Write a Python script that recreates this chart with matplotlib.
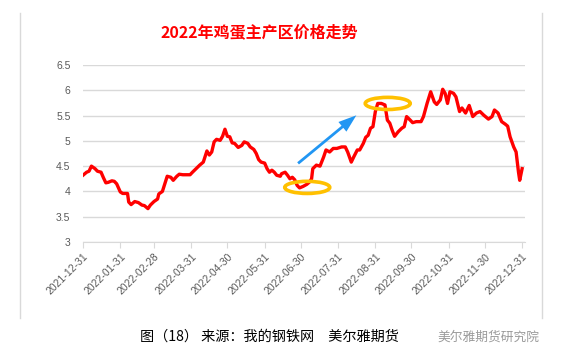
import numpy as np
import pandas as pd
import matplotlib
matplotlib.use('Agg')
import matplotlib.pyplot as plt
import matplotlib.dates as mdates
from matplotlib.patches import Ellipse, FancyArrowPatch
from matplotlib.lines import Line2D

plt.rcParams['font.family'] = ['Noto Sans CJK SC', 'DejaVu Sans']

############################ data ############################
# days after 2021-12-31 and egg price (yuan / jin)
day_offset = [0, 3, 5, 7, 10, 12, 15, 17, 19, 21, 24, 26, 28, 31, 33, 37, 38, 40,
              43, 46, 49, 51, 54, 56, 59, 62, 63, 66, 68, 70, 73, 75, 78, 80, 83,
              86, 89, 91, 94, 97, 100, 103, 105, 107, 109, 111, 114, 116, 118,
              120, 122, 124, 126, 129, 132, 134, 137, 139, 142, 144, 146, 148,
              151, 153, 155, 157, 159, 161, 164, 165, 168, 170, 172, 174, 176,
              178, 180, 183, 186, 188, 190, 191, 194, 197, 200, 202, 205, 208,
              211, 215, 218, 220, 223, 225, 228, 230, 233, 235, 237, 239, 241,
              243, 245, 248, 251, 253, 255, 257, 259, 262, 265, 267, 269, 272,
              274, 277, 281, 283, 286, 289, 292, 294, 297, 299, 301, 303, 305,
              308, 310, 313, 315, 318, 321, 324, 327, 330, 333, 337, 340, 342,
              345, 348, 351, 353, 355, 358, 360, 362, 363, 365]
price = [4.32, 4.38, 4.40, 4.50, 4.45, 4.40, 4.38, 4.27, 4.17, 4.18, 4.21, 4.20,
         4.15, 3.99, 3.96, 3.96, 3.79, 3.74, 3.80, 3.78, 3.73, 3.72, 3.66, 3.73,
         3.80, 3.85, 3.95, 4.00, 4.15, 4.30, 4.28, 4.22, 4.30, 4.34, 4.33, 4.33,
         4.33, 4.38, 4.45, 4.52, 4.58, 4.80, 4.72, 4.78, 4.98, 5.03, 5.01, 5.09,
         5.23, 5.09, 5.08, 4.96, 4.95, 4.87, 4.91, 4.98, 4.95, 4.88, 4.83, 4.75,
         4.63, 4.58, 4.56, 4.45, 4.38, 4.42, 4.38, 4.32, 4.30, 4.35, 4.38, 4.32,
         4.25, 4.28, 4.23, 4.12, 4.07, 4.10, 4.14, 4.18, 4.25, 4.45, 4.52, 4.50,
         4.68, 4.82, 4.78, 4.85, 4.85, 4.88, 4.88, 4.78, 4.58, 4.68, 4.82, 4.82,
         4.95, 5.07, 5.11, 5.25, 5.28, 5.58, 5.74, 5.74, 5.71, 5.41, 5.35, 5.21,
         5.09, 5.18, 5.25, 5.28, 5.48, 5.41, 5.36, 5.38, 5.38, 5.48, 5.74, 5.97,
         5.77, 5.72, 5.81, 6.02, 5.94, 5.74, 5.97, 5.94, 5.87, 5.58, 5.65, 5.55,
         5.70, 5.48, 5.55, 5.58, 5.51, 5.43, 5.48, 5.61, 5.55, 5.38, 5.33, 5.29,
         5.08, 4.88, 4.78, 4.38, 4.22, 4.45]

tick_labels = ['2021-12-31', '2022-01-31', '2022-02-28', '2022-03-31', '2022-04-30',
               '2022-05-31', '2022-06-30', '2022-07-31', '2022-08-31', '2022-09-30',
               '2022-10-31', '2022-11-30', '2022-12-31']
y_ticks = [3, 3.5, 4, 4.5, 5, 5.5, 6, 6.5]

title_text = '2022年鸡蛋主产区价格走势'
caption_text = '图（18） 来源：我的钢铁网　美尔雅期货'
watermark_text = '美尔雅期货研究院'

dates = pd.Timestamp('2021-12-31') + pd.to_timedelta(day_offset, unit='D')
tick_dates = pd.to_datetime(tick_labels)

grid_colour = '#D9D9D9'
label_colour = '#595959'

############################ figure ############################
fig = plt.figure(figsize=(5.66, 3.64), dpi=100)
ax = fig.add_axes([83 / 566, 1 - 242 / 364, (525 - 83) / 566, (242 - 65) / 364])

ax.plot(dates, price, color='#FF0000', lw=2.4, solid_joinstyle='round', zorder=3)

start = mdates.date2num(pd.Timestamp('2021-12-31'))
ax.set_xlim(start, start + 367.4)
ax.set_ylim(3, 6.5)

ax.set_yticks(y_ticks)
ax.set_yticklabels([('%g' % v) for v in y_ticks], fontsize=7.5, color=label_colour,
                   family='Liberation Sans')
ax.tick_params(axis='y', length=0, pad=9)
ax.yaxis.grid(True, color=grid_colour, lw=1)
ax.set_axisbelow(True)

ax.set_xticks(mdates.date2num(tick_dates))
ax.set_xticklabels(tick_labels, rotation=45, ha='right', rotation_mode='anchor',
                   fontsize=7.5, color=label_colour, family='Liberation Sans')
ax.tick_params(axis='x', length=4, color=grid_colour, pad=3)

for s in ['top', 'right', 'left']:
    ax.spines[s].set_visible(False)
ax.spines['bottom'].set_color(grid_colour)

############################ annotations ############################
for cx, cy in [(186.4, 4.08), (253.3, 5.74)]:
    e = Ellipse((start + cx, cy), width=37.4, height=0.24, fill=False,
                edgecolor='#FFC000', lw=2.6, zorder=4)
    ax.add_patch(e)

arrow = FancyArrowPatch((start + 177, 4.52), (start + 229, 5.54),
                        arrowstyle='simple,head_width=0.9,head_length=1.3,tail_width=0.2',
                        mutation_scale=10, color='#2196F3', lw=0, zorder=4)
ax.add_patch(arrow)

############################ frame, title, caption ############################
for xp in [20, 542]:
    fig.add_artist(Line2D([xp / 566, xp / 566], [1 - 13 / 364, 1 - 318 / 364],
                          color=grid_colour, lw=1))

fig.text(259 / 566, 1 - 32 / 364, title_text, ha='center', va='center',
         fontsize=11.5, fontweight='bold', color='#FF0000')

fig.text(140 / 566, 1 - 337 / 364, caption_text, ha='left', va='center',
         fontsize=10.2, color='black')
fig.text(437 / 566, 1 - 337 / 364, watermark_text, ha='left', va='center',
         fontsize=9.2, color='#9A9A9A')

fig.savefig('out.png', dpi=100)
